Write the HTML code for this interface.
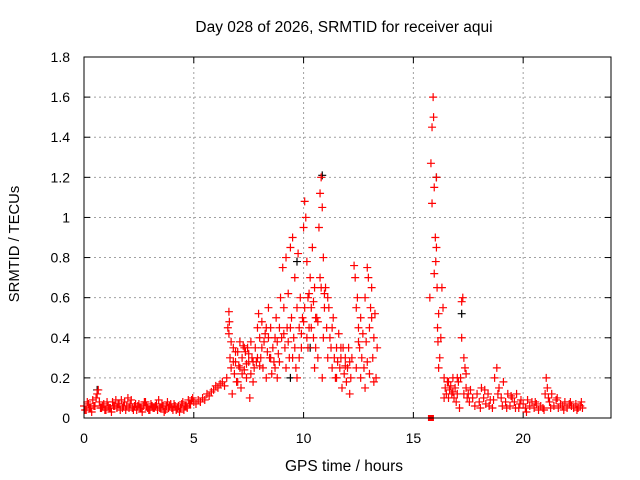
<!DOCTYPE html>
<html><head><meta charset="utf-8"><style>
body{margin:0;background:#fff;}
svg{display:block;font-family:"Liberation Sans",sans-serif;}
</style></head><body>
<svg id="chart" width="640" height="480" viewBox="0 0 640 480">
<rect width="640" height="480" fill="#fff"/>
<text x="344" y="32" font-size="15.5" text-anchor="middle">Day 028 of 2026, SRMTID for receiver aqui</text>
<text x="344" y="471" font-size="15.5" text-anchor="middle">GPS time / hours</text>
<text transform="translate(19,244) rotate(-90)" font-size="14.8" text-anchor="middle">SRMTID / TECUs</text>
<g id="grid"></g><g id="ticks"></g><g id="marks"></g>
<rect x="84" y="57" width="527" height="361" fill="none" stroke="#000" stroke-width="1"/>
</svg>
<script>
const xTicks=[0,5,10,15,20];
const yTicks=[0,0.2,0.4,0.6,0.8,1,1.2,1.4,1.6,1.8];
const yTickLabels=["0","0.2","0.4","0.6","0.8","1","1.2","1.4","1.6","1.8"];
const times=[0,0.1,0.2,0.3,0.4,0.5,0.6,0.7,0.8,0.9,1,1.1,1.2,1.3,1.4,1.5,1.6,1.7,1.8,1.9,2,2.1,2.2,2.3,2.4,2.5,2.6,2.7,2.8,2.9,3,3.1,3.2,3.3,3.4,3.5,3.6,3.7,3.8,3.9,4,4.1,4.2,4.3,4.4,4.5,4.6,4.7,4.8,4.9,5,
0.05,0.15,0.25,0.35,0.45,0.55,0.65,0.75,0.85,0.95,1.05,1.15,1.25,1.35,1.45,1.55,1.65,1.75,1.85,1.95,2.05,2.15,2.25,2.35,2.45,2.55,2.65,2.75,2.85,2.95,3.05,3.15,3.25,3.35,3.45,3.55,3.65,3.75,3.85,3.95,4.05,4.15,4.25,4.35,4.45,4.55,4.65,4.75,4.85,4.95,
5.1,5.2,5.3,5.4,5.5,5.6,5.7,5.8,5.9,6,6.1,6.2,6.3,6.4,
6.5,6.55,6.6,6.62,6.65,6.7,6.75,6.8,6.85,6.9,6.95,7,7.05,7.1,7.15,7.2,7.25,7.3,7.35,7.4,7.45,7.5,7.55,7.6,7.65,7.7,7.75,7.8,7.85,7.9,7.95,8,8.05,8.1,8.15,8.2,8.25,8.3,8.35,8.4,8.45,8.5,8.55,8.6,8.65,8.7,8.75,8.8,8.85,8.9,8.95,9,
6.6,6.7,6.8,6.9,7,7.1,7.2,7.3,7.5,7.7,7.9,8.1,8.3,8.5,8.7,8.9,7.4,7.6,8,8.4,8.8,
9.05,9.1,9.15,9.2,9.25,9.3,9.35,9.4,9.45,9.5,9.55,9.6,9.65,9.7,9.75,9.8,9.85,9.9,9.95,9.1,9.3,9.5,9.7,9.9,9.2,9.4,9.6,9.8,
10,10.05,10.1,10.15,10.2,10.25,10.3,10.35,10.4,10.45,10.5,10.55,10.6,10.65,10.7,10.75,10.8,10.85,10.9,10.95,10.05,10.15,10.25,10.35,10.45,10.55,10.65,10.75,10.85,10.95,10,10.2,10.5,10.8,10.9,
11,11.05,11.1,11.15,11.2,11.25,11.3,11.35,11.4,11.45,11.5,11.55,11.6,11.65,11.7,11.75,11.8,11.85,11.9,11.95,12,12.05,12.1,12.15,12.2,11.1,11.3,11.5,11.7,11.9,12.1,
12.3,12.35,12.4,12.45,12.5,12.55,12.6,12.65,12.7,12.75,12.8,12.85,12.9,12.95,13,13.05,13.1,13.15,13.2,13.25,13.3,13.35,12.4,12.6,12.8,13,13.2,12.5,12.9,13.1,
15.75,15.8,15.85,15.9,15.92,15.95,16,16.02,16.05,16.08,16.1,16.12,16.15,16.2,16.25,16.3,15.85,15.95,16.05,16.15,
16.35,16.4,16.45,16.5,16.55,16.6,16.65,16.7,16.75,16.8,16.85,16.9,16.95,17,17.05,17.1,17.15,17.2,17.25,17.3,17.35,17.4,17.45,17.5,17.55,17.6,16.4,16.6,16.8,17,17.2,17.3,17.4,
17.7,17.8,17.9,18,18.1,18.2,18.3,18.4,18.5,18.6,18.7,18.8,18.9,19,19.1,19.2,19.3,19.4,19.5,19.6,19.7,19.8,19.9,18.05,18.25,18.45,18.65,18.85,19.05,19.25,19.45,19.65,19.85,
20,20.1,20.2,20.3,20.4,20.5,20.6,20.7,20.8,20.9,21,21.05,21.1,21.15,21.2,21.3,21.4,21.5,21.6,21.7,21.8,21.9,22,22.1,22.2,22.3,22.4,22.5,22.6,22.7,20.15,20.55,20.95,21.25,21.55,21.85,22.15,22.45,22.65];
const values=[.06,.04,.07,.05,.09,.06,.12,.08,.05,.07,.04,.06,.05,.08,.06,.05,.07,.09,.06,.04,.10,.07,.05,.06,.04,.07,.05,.06,.08,.05,.04,.06,.05,.07,.09,.05,.06,.04,.08,.06,.05,.07,.04,.06,.05,.08,.06,.05,.07,.09,.08,
.04,.08,.05,.03,.06,.10,.14,.05,.06,.04,.08,.05,.03,.06,.09,.07,.04,.05,.08,.06,.05,.09,.04,.07,.06,.05,.03,.08,.06,.04,.07,.05,.06,.04,.05,.07,.03,.06,.05,.07,.04,.06,.05,.03,.07,.04,.06,.09,.07,.10,
.07,.09,.08,.10,.09,.12,.11,.13,.14,.16,.15,.17,.18,.16,
.20,.45,.53,.48,.30,.25,.12,.35,.22,.28,.18,.33,.26,.38,.15,.30,.36,.24,.33,.20,.35,.28,.10,.22,.30,.18,.25,.35,.28,.45,.52,.40,.30,.48,.25,.38,.42,.20,.33,.55,.30,.45,.22,.35,.28,.40,.50,.20,.32,.45,.60,.40,
.42,.38,.28,.33,.18,.25,.22,.35,.32,.28,.30,.35,.45,.30,.25,.28,.27,.38,.26,.40,.38,
.75,.55,.35,.80,.45,.62,.30,.85,.50,.90,.40,.70,.25,.55,.82,.45,.60,.35,.50,.42,.38,.30,.20,.42,.25,.45,.35,.30,
.95,1.08,1.0,.78,.60,.45,.70,.55,.85,.40,.65,.35,.50,.30,.95,1.12,1.20,1.05,.80,.62,.55,.40,.62,.45,.58,.50,.48,.70,.20,.55,.48,.35,.25,.65,.40,
.65,.45,.30,.55,.40,.35,.25,.50,.30,.20,.35,.28,.42,.25,.30,.15,.35,.22,.30,.18,.25,.35,.28,.20,.30,.60,.45,.20,.35,.26,.12,
.76,.70,.55,.60,.45,.35,.50,.30,.42,.25,.60,.38,.75,.70,.45,.55,.50,.30,.40,.52,.20,.35,.25,.20,.15,.22,.18,.38,.28,.65,
.60,1.27,1.45,1.60,1.50,1.15,.90,.78,1.20,.65,.45,.38,.52,.30,.40,.65,1.07,.72,.85,.25,
.55,.20,.15,.12,.18,.10,.14,.16,.12,.20,.10,.15,.08,.12,.18,.05,.20,.58,.60,.30,.25,.15,.10,.12,.08,.14,.10,.18,.13,.20,.40,.12,.22,
.10,.06,.12,.08,.15,.10,.07,.12,.09,.05,.20,.25,.15,.10,.18,.08,.12,.06,.10,.08,.12,.05,.09,.05,.14,.06,.09,.12,.06,.05,.11,.05,.07,
.07,.05,.09,.06,.08,.05,.07,.04,.06,.05,.12,.20,.15,.10,.08,.12,.06,.09,.05,.07,.06,.08,.05,.07,.06,.05,.07,.05,.06,.05,.03,.08,.04,.05,.10,.04,.08,.04,.08];
const blackTimes=[0.6,9.4,9.7,10.85,16.05,17.2,10.3];
const blackValues=[.14,.20,.78,1.21,1.20,.52,.35];
const zeroTimes=[15.8];
const zeroValues=[0];

const NS="http://www.w3.org/2000/svg";
const X0=84,X1=611,Y0=418,Y1=57;
function xs(t){return X0+t/24*(X1-X0);}
function ys(v){return Y0-v/1.8*(Y0-Y1);}
const grid=document.getElementById('grid'),ticks=document.getElementById('ticks'),marks=document.getElementById('marks');
function mk(tag,attrs,parent){const e=document.createElementNS(NS,tag);for(const k in attrs)e.setAttribute(k,attrs[k]);parent.appendChild(e);return e;}
xTicks.forEach(t=>{
  const x=xs(t);
  if(t>0){const g=mk('line',{x1:x,x2:x,y1:Y1,y2:Y0,stroke:'#a0a0a0','stroke-dasharray':'2,3'},grid);
  
  }
  mk('line',{x1:x,x2:x,y1:Y0,y2:Y0-6,stroke:'#000'},ticks);
  mk('line',{x1:x,x2:x,y1:Y1,y2:Y1+6,stroke:'#000'},ticks);
  const l=mk('text',{x:x,y:443,'font-size':14,'text-anchor':'middle'},ticks);l.textContent=t;
  
  
});
yTicks.forEach((v,i)=>{
  const y=ys(v);
  if(v>0&&v<1.8){const g=mk('line',{x1:X0,x2:X1,y1:y,y2:y,stroke:'#a0a0a0','stroke-dasharray':'2,3'},grid);
  
  }
  mk('line',{x1:X0,x2:X0+6,y1:y,y2:y,stroke:'#000'},ticks);
  mk('line',{x1:X1,x2:X1-6,y1:y,y2:y,stroke:'#000'},ticks);
  const l=mk('text',{x:70,y:y+5,'font-size':14,'text-anchor':'end'},ticks);l.textContent=yTickLabels[i];
  
  
});
function plus(t,v,col,name){
  const x=xs(t),y=ys(v);
  const p=mk('path',{d:`M${x-4} ${y}H${x+4}M${x} ${y-4}V${y+4}`,stroke:col,'stroke-width':1.2,fill:'none'},marks);
  
  
}
blackTimes.forEach((t,i)=>plus(t,blackValues[i],'#000','black-point'));
times.forEach((t,i)=>plus(t,values[i],'#f00','srmtid-point'));
zeroTimes.forEach((t,i)=>{
  const s=mk('rect',{x:xs(t)-3,y:ys(zeroValues[i])-3,width:6,height:6,fill:'#f00'},marks);
  
  
});
</script>
</body></html>
